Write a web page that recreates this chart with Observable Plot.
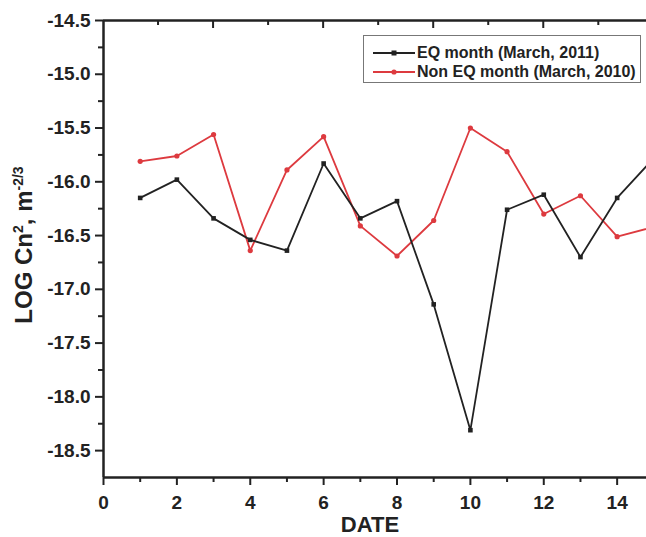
<!DOCTYPE html>
<html>
<head>
<meta charset="utf-8">
<script src="https://cdn.jsdelivr.net/npm/d3@7"></script>
<script src="https://cdn.jsdelivr.net/npm/@observablehq/plot@0.6"></script>
<style>
  html, body { margin: 0; padding: 0; background: #fff; }
  #wrap { position: relative; width: 646px; height: 537px; overflow: hidden; font-family: "Liberation Sans", Arial, sans-serif; }
  #legend { position: absolute; left: 363px; top: 35px; width: 278px; height: 48px; border: 1px solid #777; box-sizing: border-box; background: #fff; }
  .lg-row { position: absolute; left: 0; height: 20px; font-weight: bold; font-size: 16px; color: #222; white-space: nowrap; }
  .lg-row svg { position: absolute; left: 8px; top: 2px; }
  .lg-row span { position: absolute; left: 53px; top: 0; line-height: 20px; }
  #ylabel { position: absolute; left: 24px; top: 245px; transform: translate(-50%, -50%) rotate(-90deg); font-weight: bold; font-size: 24px; color: #222; white-space: nowrap; }
  #ylabel sup { font-size: 14px; }
  #xlabel { position: absolute; left: 370px; top: 512px; transform: translateX(-50%); font-weight: bold; font-size: 22px; color: #222; }
</style>
</head>
<body>
<div id="wrap">
  <div id="chart"></div>
  <div id="legend"></div>
  <div id="ylabel">LOG Cn<sup>2</sup>, m<sup>-2/3</sup></div>
  <div id="xlabel">DATE</div>
</div>
<script>
const dates = [1, 2, 3, 4, 5, 6, 7, 8, 9, 10, 11, 12, 13, 14, 15];
const eqMonth = [-16.15, -15.98, -16.34, -16.54, -16.64, -15.83, -16.34, -16.18, -17.14, -18.31, -16.26, -16.12, -16.70, -16.15, -15.78];
const nonEqMonth = [-15.81, -15.76, -15.56, -16.64, -15.89, -15.58, -16.41, -16.69, -16.36, -15.50, -15.72, -16.30, -16.13, -16.51, -16.42];
const seriesNames = ["EQ month (March, 2011)", "Non EQ month (March, 2010)"];
const seriesColors = ["#222222", "#dd3a3f"];
const xMajorTicks = [0, 2, 4, 6, 8, 10, 12, 14];
const xMinorTicks = [1, 3, 5, 7, 9, 11, 13];
const topMajorTicks = [3, 6, 9, 12];
const topMinorTicks = [1.5, 4.5, 7.5, 10.5, 13.5];
const yMajorTicks = [-14.5, -15.0, -15.5, -16.0, -16.5, -17.0, -17.5, -18.0, -18.5];
const yMinorTicks = [-14.75, -15.25, -15.75, -16.25, -16.75, -17.25, -17.75, -18.25];
const xDomain = [0, 14.8];
const yDomain = [-18.75, -14.5];

const eqData = dates.map((d, i) => ({date: d, value: eqMonth[i]}));
const nonEqData = dates.map((d, i) => ({date: d, value: nonEqMonth[i]}));

const W = 646, H = 537, mL = 103, mR = 0, mT = 20, mB = 60;

const axisColor = "#222";
const chart = Plot.plot({
  width: W,
  height: H,
  marginLeft: mL,
  marginRight: mR,
  marginTop: mT,
  marginBottom: mB,
  style: {fontFamily: "'Liberation Sans', Arial, sans-serif", fontSize: "19px", fontWeight: "bold", color: axisColor, background: "#fff"},
  x: {domain: xDomain},
  y: {domain: yDomain},
  marks: [
    Plot.axisX({ticks: xMajorTicks, tickSize: 8, tickPadding: 10, tickFormat: d => String(d), label: null, strokeWidth: 2}),
    Plot.axisX({ticks: xMinorTicks, tickSize: 5, text: null, label: null, strokeWidth: 2}),
    Plot.axisY({ticks: yMajorTicks, tickSize: 8, tickPadding: 5, tickFormat: d => d.toFixed(1), label: null, strokeWidth: 2}),
    Plot.axisY({ticks: yMinorTicks, tickSize: 5, text: null, label: null, strokeWidth: 2}),
    Plot.line(nonEqData, {x: "date", y: "value", stroke: seriesColors[1], strokeWidth: 1.8, clip: true}),
    Plot.dot(nonEqData, {x: "date", y: "value", fill: seriesColors[1], r: 2.6, symbol: "circle", clip: true}),
    Plot.line(eqData, {x: "date", y: "value", stroke: seriesColors[0], strokeWidth: 1.8, clip: true}),
    Plot.dot(eqData, {x: "date", y: "value", fill: seriesColors[0], r: 2.6, symbol: "square", clip: true}),
    Plot.ruleX([xDomain[0]], {stroke: axisColor, strokeWidth: 2.5}),
    Plot.ruleY([yDomain[0]], {stroke: axisColor, strokeWidth: 2.5}),
    Plot.ruleY([yDomain[1]], {stroke: axisColor, strokeWidth: 2.5})
  ]
});
document.getElementById("chart").appendChild(chart);

// inward tick marks along the top frame, positioned with the chart's own x scale
const xs = chart.scale("x"), ys = chart.scale("y");
const topY = ys.apply(yDomain[1]);
const g = d3.select(chart).append("g").attr("stroke", axisColor).attr("stroke-width", 2);
[[topMajorTicks, 8], [topMinorTicks, 5]].forEach(([ticks, len]) => {
  ticks.forEach(t => {
    const px = xs.apply(t);
    g.append("line").attr("x1", px).attr("x2", px).attr("y1", topY).attr("y2", topY + len);
  });
});

const legend = document.getElementById("legend");
seriesNames.forEach((name, i) => {
  const row = document.createElement("div");
  row.className = "lg-row";
  row.style.top = (7 + i * 19) + "px";
  const sw = d3.create("svg").attr("width", 44).attr("height", 16);
  sw.append("line").attr("x1", 1).attr("x2", 43).attr("y1", 8).attr("y2", 8).attr("stroke", seriesColors[i]).attr("stroke-width", 1.8);
  if (i === 0) sw.append("rect").attr("x", 19.5).attr("y", 5.5).attr("width", 5).attr("height", 5).attr("fill", seriesColors[i]);
  else sw.append("circle").attr("cx", 22).attr("cy", 8).attr("r", 2.6).attr("fill", seriesColors[i]);
  row.appendChild(sw.node());
  const t = document.createElement("span");
  t.textContent = name;
  row.appendChild(t);
  legend.appendChild(row);
});
</script>
</body>
</html>
